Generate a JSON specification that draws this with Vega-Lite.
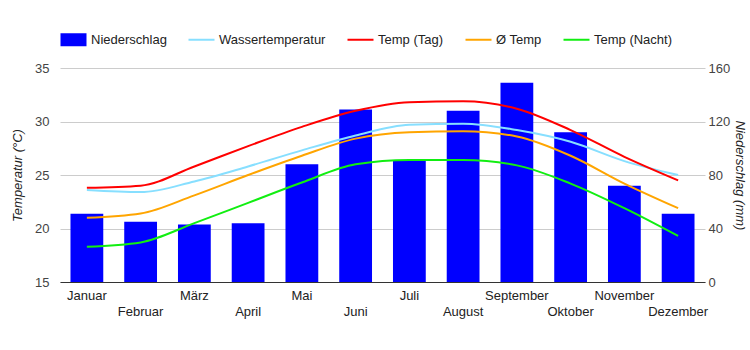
{
  "$schema": "https://vega.github.io/schema/vega-lite/v6.json",
  "autosize": "none",
  "width": 645,
  "height": 214,
  "padding": {"left": 60, "top": 68, "right": 45, "bottom": 68},
  "background": "white",
  "config": {
    "font": "Liberation Sans",
    "view": {"stroke": null},
    "axis": {"labelFont": "Liberation Sans", "labelFontSize": 13, "labelColor": "#444", "titleFont": "Liberation Sans", "titleFontSize": 13, "titleColor": "#222", "titleFontWeight": "normal", "titleFontStyle": "italic", "ticks": false}
  },
  "data": {
    "values": [
      {"Monat": "Januar", "Niederschlag": 51, "Wassertemperatur": 23.6, "Temp (Tag)": 23.8, "Ø Temp": 21.0, "Temp (Nacht)": 18.3},
      {"Monat": "Februar", "Niederschlag": 45, "Wassertemperatur": 23.4, "Temp (Tag)": 24.0, "Ø Temp": 21.4, "Temp (Nacht)": 18.7},
      {"Monat": "März", "Niederschlag": 43, "Wassertemperatur": 24.4, "Temp (Tag)": 25.8, "Ø Temp": 23.1, "Temp (Nacht)": 20.5},
      {"Monat": "April", "Niederschlag": 44, "Wassertemperatur": 25.8, "Temp (Tag)": 27.7, "Ø Temp": 25.0, "Temp (Nacht)": 22.4},
      {"Monat": "Mai", "Niederschlag": 88, "Wassertemperatur": 27.3, "Temp (Tag)": 29.5, "Ø Temp": 26.8, "Temp (Nacht)": 24.3},
      {"Monat": "Juni", "Niederschlag": 129, "Wassertemperatur": 28.7, "Temp (Tag)": 31.0, "Ø Temp": 28.4, "Temp (Nacht)": 26.0},
      {"Monat": "Juli", "Niederschlag": 91, "Wassertemperatur": 29.7, "Temp (Tag)": 31.8, "Ø Temp": 29.0, "Temp (Nacht)": 26.4},
      {"Monat": "August", "Niederschlag": 128, "Wassertemperatur": 29.8, "Temp (Tag)": 31.9, "Ø Temp": 29.1, "Temp (Nacht)": 26.4},
      {"Monat": "September", "Niederschlag": 149, "Wassertemperatur": 29.2, "Temp (Tag)": 31.2, "Ø Temp": 28.6, "Temp (Nacht)": 25.9},
      {"Monat": "Oktober", "Niederschlag": 112, "Wassertemperatur": 28.1, "Temp (Tag)": 29.2, "Ø Temp": 26.8, "Temp (Nacht)": 24.2},
      {"Monat": "November", "Niederschlag": 72, "Wassertemperatur": 26.3, "Temp (Tag)": 26.7, "Ø Temp": 24.2, "Temp (Nacht)": 21.9},
      {"Monat": "Dezember", "Niederschlag": 51, "Wassertemperatur": 25.0, "Temp (Tag)": 24.5, "Ø Temp": 21.9, "Temp (Nacht)": 19.3}
    ]
  },
  "encoding": {
    "x": {
      "field": "Monat",
      "type": "nominal",
      "sort": ["Januar", "Februar", "März", "April", "Mai", "Juni", "Juli", "August", "September", "Oktober", "November", "Dezember"],
      "scale": {"paddingInner": 0.39, "paddingOuter": 0.195},
      "axis": {
        "title": null,
        "labelAngle": 0,
        "labelPadding": 7,
        "labelLineHeight": 16,
        "labelColor": "#222",
        "domainColor": "#333",
        "labelExpr": "indexof(['Januar','Februar','März','April','Mai','Juni','Juli','August','September','Oktober','November','Dezember'], datum.value) % 2 == 1 ? ['', datum.label] : datum.label",
        "grid": false
      }
    }
  },
  "layer": [
    {
      "mark": {"type": "bar", "color": "#0000ff"},
      "encoding": {
        "y": {
          "field": "Niederschlag",
          "type": "quantitative",
          "scale": {"domain": [0, 160], "nice": false},
          "axis": {"orient": "right", "title": "Niederschlag (mm)", "values": [0, 40, 80, 120, 160], "grid": false, "domain": false, "labelPadding": 3, "titlePadding": 3}
        },
        "color": {
          "datum": "Niederschlag",
          "type": "nominal",
          "title": null,
          "scale": {
            "domain": ["Niederschlag", "Wassertemperatur", "Temp (Tag)", "Ø Temp", "Temp (Nacht)"],
            "range": ["#0000ff", "#87dfff", "#ff0000", "#ffa500", "#11ee11"]
          },
          "legend": {
            "title": null,
            "orient": "none",
            "direction": "horizontal",
            "legendX": 7,
            "legendY": -35,
            "labelFontSize": 13,
            "labelColor": "#222",
            "labelOffset": 11,
            "columnPadding": 17,
            "symbolSize": 676,
            "encode": {
              "symbols": {
                "update": {
                  "shape": {"signal": "datum.value === 'Niederschlag' ? 'M-1,-0.5H1V0.5H-1Z' : 'stroke'"},
                  "fill": {"signal": "datum.value === 'Niederschlag' ? '#0000ff' : 'transparent'"},
                  "stroke": {"scale": "color", "field": "value"},
                  "strokeWidth": {"signal": "datum.value === 'Niederschlag' ? 0 : 2"},
                  "opacity": {"value": 1}
                }
              }
            }
          }
        }
      }
    },
    {
      "transform": [{"fold": ["Wassertemperatur", "Temp (Tag)", "Ø Temp", "Temp (Nacht)"], "as": ["Serie", "Wert"]}],
      "mark": {"type": "line", "interpolate": "monotone", "strokeWidth": 2},
      "encoding": {
        "x": {"field": "Monat", "type": "nominal", "bandPosition": 0.5,
          "sort": ["Januar", "Februar", "März", "April", "Mai", "Juni", "Juli", "August", "September", "Oktober", "November", "Dezember"]},
        "y": {
          "field": "Wert",
          "type": "quantitative",
          "scale": {"domain": [15, 35], "nice": false},
          "axis": {"orient": "left", "title": "Temperatur (°C)", "values": [15, 20, 25, 30, 35], "grid": true, "gridColor": "#cccccc", "domain": false, "labelPadding": 11, "titlePadding": 10}
        },
        "color": {"field": "Serie", "type": "nominal", "title": null}
      }
    }
  ],
  "resolve": {"scale": {"y": "independent"}}
}
